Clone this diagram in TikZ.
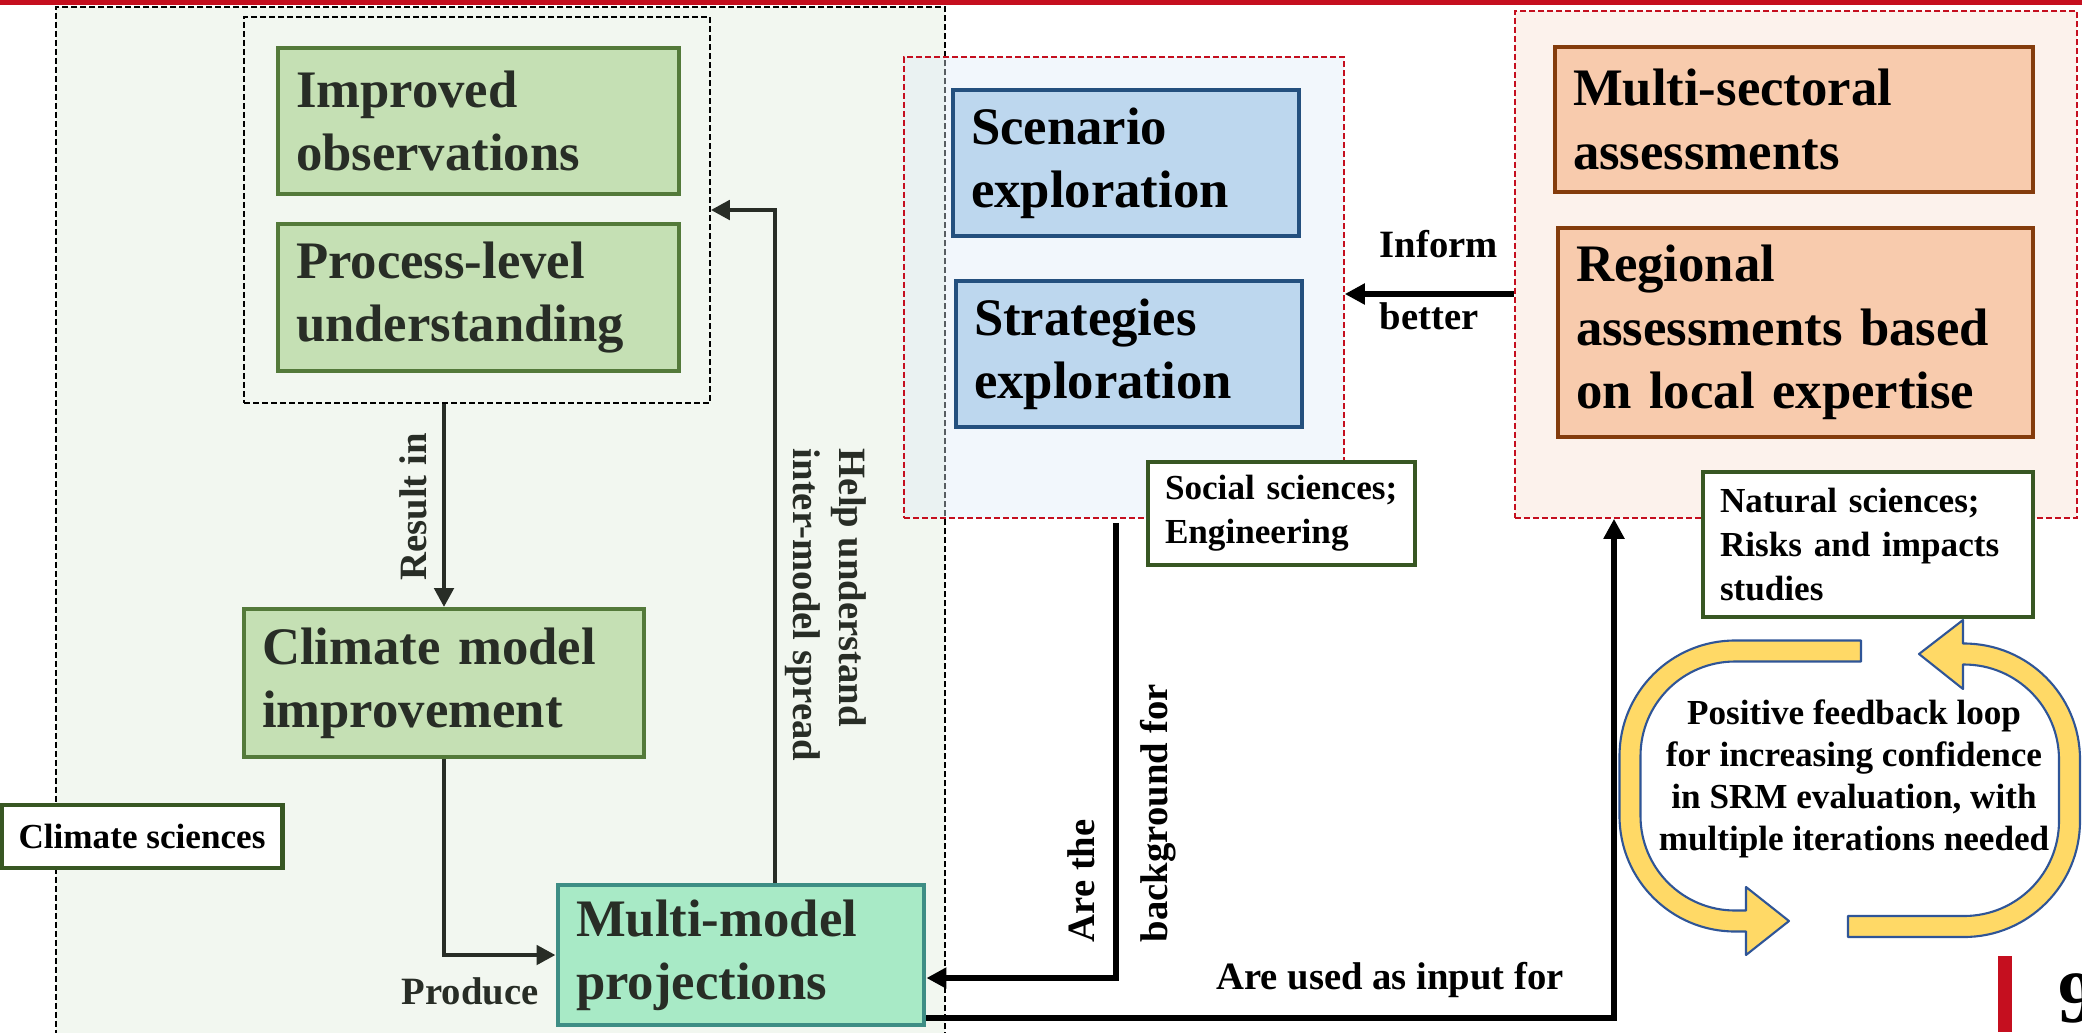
\documentclass[tikz,border=0pt]{standalone}
\usepackage{fontspec}
\setmainfont{Liberation Serif}
\usetikzlibrary{arrows.meta, positioning, calc}
\definecolor{srmred}{RGB}{197,15,31}
\definecolor{climatebg}{RGB}{242,247,240}
\definecolor{socialbg}{RGB}{222,235,247}
\definecolor{regionbg}{RGB}{252,242,236}
\definecolor{greenfill}{RGB}{197,224,180}
\definecolor{greenline}{RGB}{84,122,58}
\definecolor{bluefill}{RGB}{189,215,238}
\definecolor{blueline}{RGB}{36,80,126}
\definecolor{orangefill}{RGB}{248,203,173}
\definecolor{orangeline}{RGB}{132,60,12}
\definecolor{mintfill}{RGB}{168,234,198}
\definecolor{tealline}{RGB}{62,142,133}
\definecolor{labelline}{RGB}{56,87,35}
\definecolor{darkink}{RGB}{40,45,38}
\definecolor{loopfill}{RGB}{255,217,102}
\definecolor{loopline}{RGB}{47,85,151}
\newcommand*{\boxfont}{\fontsize{15}{18}\selectfont\bfseries}
\newcommand*{\tagfont}{\fontsize{10}{12.5}\selectfont\bfseries}
\newcommand*{\arrfont}{\fontsize{11}{13}\selectfont\bfseries}
\newcommand*{\loopfont}{\fontsize{10}{12}\selectfont\bfseries}

\begin{document}
\begin{tikzpicture}[x=0.1mm, y=-0.1mm,
  area/.style={inner sep=0pt, line width=0.45pt, dash pattern=on 0.6mm off 0.3mm},
  box/.style={line width=1.1pt, inner xsep=1.8mm, inner ysep=0pt, align=left, font=\boxfont},
  greenbox/.style={box, draw=greenline, fill=greenfill, text=darkink},
  bluebox/.style={box, draw=blueline, fill=bluefill},
  orangebox/.style={box, draw=orangeline, fill=orangefill},
  tagbox/.style={draw=labelline, fill=white, line width=1.2pt, inner xsep=1.7mm, inner ysep=0pt, align=left, font=\tagfont},
  darkarrow/.style={darkink, line width=1.4pt, -{Triangle[length=1.9mm, width=1.9mm]}},
  blackarrow/.style={black, line width=1.9pt, -{Triangle[length=2mm, width=2mm]}},
  looparrow/.style={fill=loopfill, draw=loopline, line width=0.6pt, line join=round},
  lbl/.style={inner sep=0pt, font=\arrfont}]
 \useasboundingbox (0,0) rectangle (2082,1032);
 \fill[srmred] (0,0) rectangle (2082,5);
 \node[area, draw=black, fill=climatebg, minimum width=88.9mm, minimum height=103.3mm] (climate) at (500.5,523.5) {};
 \node[area, draw=srmred, fill=socialbg, fill opacity=0.4, minimum width=44mm, minimum height=46.1mm] (social) at (1124,287.5) {};
 \node[area, draw=srmred, fill=regionbg, minimum width=56.2mm, minimum height=50.7mm] (regional) at (1796,264.5) {};
 \node[area, draw=black, minimum width=46.6mm, minimum height=38.6mm] (inner) at (477,210) {};

 \node[greenbox, text width=36.5mm, minimum height=14.6mm] (obs) at (478.5,121) {Improved\\observations};
 \node[greenbox, text width=36.5mm, minimum height=14.7mm] (proc) at (478.5,297.5) {Process-level\\understanding};
 \node[greenbox, text width=36.4mm, minimum height=14.8mm] (climmod) at (444,683) {Climate model\\improvement};
 \node[box, draw=tealline, fill=mintfill, text=darkink, line width=1.4pt, text width=33mm, minimum height=14mm] (multi) at (741,955) {Multi-model\\projections};
 \node[bluebox, text width=31mm, minimum height=14.6mm] (scen) at (1126,163) {Scenario\\exploration};
 \node[bluebox, text width=31mm, minimum height=14.6mm] (strat) at (1129,354) {Strategies\\exploration};
 \node[orangebox, text width=44.2mm, minimum height=14.5mm] (msect) at (1794,119.5) {Multi-sectoral\\assessments};
 \node[orangebox, text width=43.9mm, minimum height=20.9mm] (region) at (1795.5,332.5) {Regional\\assessments based\\on local expertise};

 \node[tagbox, align=center, minimum width=28mm, minimum height=6.3mm] (climtag) at (142,836.5) {Climate sciences};
 \node[tagbox, text width=23.3mm, minimum height=10.3mm] (soctag) at (1281.5,513.5) {Social sciences;\\Engineering};
 \node[tagbox, text width=29.6mm, minimum height=14.5mm] (nattag) at (1868,544.5) {Natural sciences;\\Risks and impacts\\studies};

 \draw[darkarrow] (climmod.north |- inner.south) -- (climmod.north);
 \node[lbl, rotate=90, text=darkink] (resultlbl) at (413,507) {Result in};
 \draw[darkarrow] (climmod.south) |- (multi.west);
 \node[lbl, text=darkink] (producelbl) at (470,991) {Produce};
 \coordinate (helpturn) at (775,210);
 \draw[darkarrow] (helpturn |- multi.north) -- (helpturn) -- (helpturn -| inner.east);
 \node[lbl, rotate=-90, align=left, text=darkink] (helplbl) at (826,605) {Help understand\\inter-model spread};

 \coordinate (informy) at (1430,294);
 \draw[blackarrow] (regional.west |- informy) -- (social.east |- informy);
 \node[lbl, anchor=base west] (informlbl) at (1379,257) {Inform};
 \node[lbl, anchor=base west] (betterlbl) at (1379,329) {better};
 \coordinate (bgturn) at (1116,978);
 \draw[blackarrow, shorten <=0.4mm] (bgturn |- social.south) -- (bgturn) -- (bgturn -| multi.east);
 \node[lbl, rotate=90, align=left, font=\fontsize{11}{20.8}\selectfont\bfseries] (bglbl) at (1122,813) {Are the\\background for};
 \coordinate (inputturn) at (1614,1018);
 \draw[blackarrow] (multi.east |- inputturn) -- (inputturn) -- (inputturn |- regional.south);
 \node[lbl] (inputlbl) at (1390,980) {Are used as input for};

 \path[looparrow] (1861,640.5) -- (1735,640.5) arc[start angle=270, end angle=180, radius=115.5] -- (1619.5,816) arc[start angle=180, end angle=90, radius=115.5] -- (1746,931.5) -- (1746,955) -- (1789,921) -- (1746,887) -- (1746,910.5) -- (1735,910.5) arc[start angle=90, end angle=180, radius=94.5] -- (1640.5,756) arc[start angle=180, end angle=270, radius=94.5] -- (1861,661.5) -- cycle;
 \path[looparrow] (1848,916) -- (1964,916) arc[start angle=90, end angle=0, radius=95] -- (2059,759.5) arc[start angle=0, end angle=-90, radius=95] -- (1963,664.5) -- (1963,689) -- (1919,654) -- (1963,620) -- (1963,643.5) -- (1964,643.5) arc[start angle=-90, end angle=0, radius=116] -- (2080,821) arc[start angle=0, end angle=90, radius=116] -- (1848,937) -- cycle;
 \node[inner sep=0pt, align=center, font=\loopfont] (looptext) at (1854,779) {Positive feedback loop\\for increasing confidence\\in SRM evaluation, with\\multiple iterations needed};

 \fill[srmred] (1998,956) rectangle (2012,1032);
 \node[anchor=base west, inner sep=0pt, font=\fontsize{21}{21}\selectfont\bfseries] (pagenum) at (2058,1022) {9};
\end{tikzpicture}
\end{document}
